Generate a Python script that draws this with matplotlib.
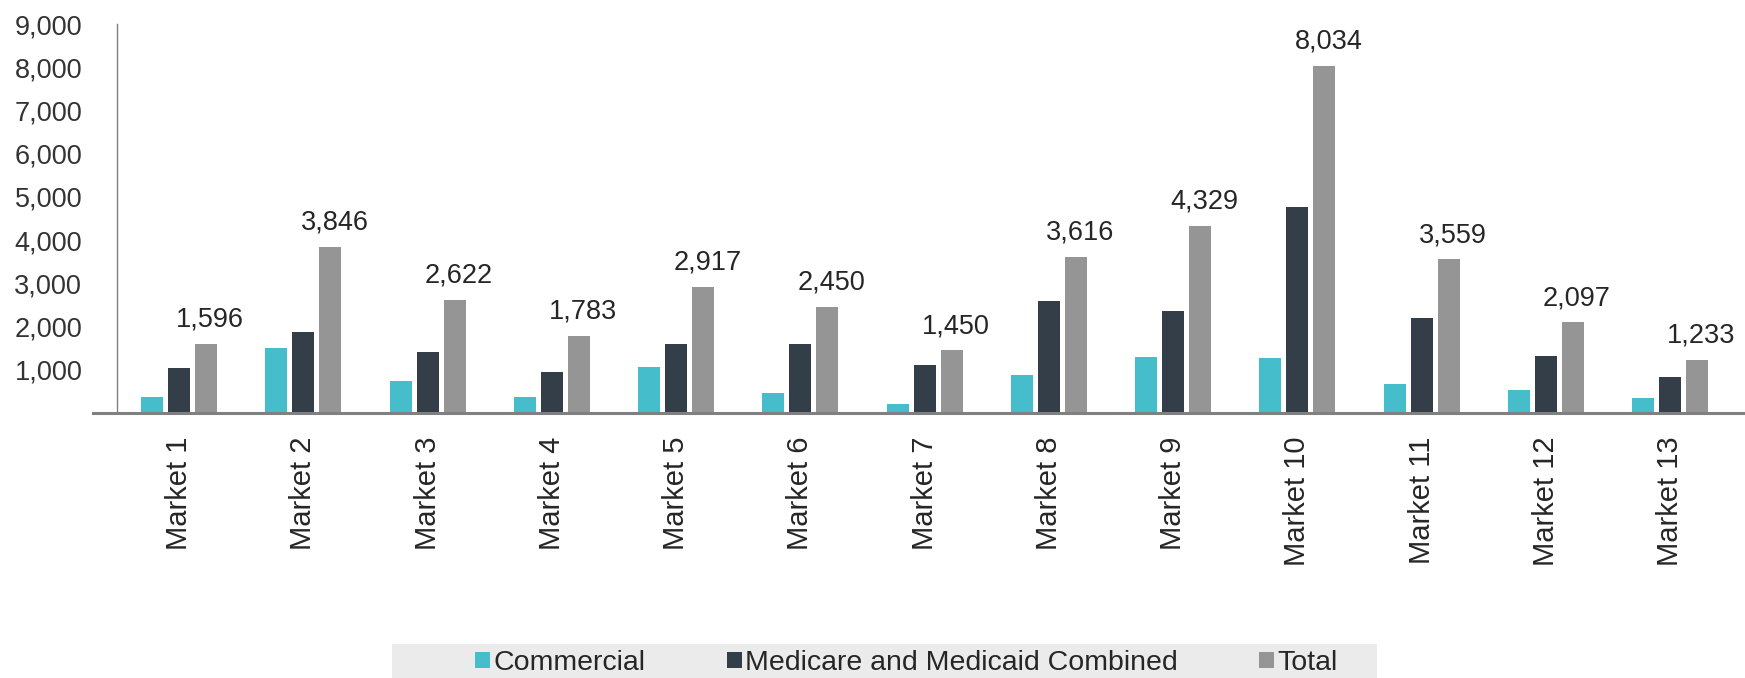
import numpy as np
import matplotlib
matplotlib.use('Agg')
import matplotlib.pyplot as plt
from matplotlib.patches import Rectangle


MARKETS = [f'Market {i}' for i in range(1, 14)]
COMMERCIAL = [380, 1500, 730, 380, 1070, 470, 200, 880, 1290, 1270, 670, 530, 340]
MED_COMBINED = [1040, 1870, 1400, 960, 1590, 1590, 1110, 2580, 2350, 4770, 2200, 1310, 830]
TOTAL = [1596, 3846, 2622, 1783, 2917, 2450, 1450, 3616, 4329, 8034, 3559, 2097, 1233]
SERIES_NAMES = ['Commercial', 'Medicare and Medicaid Combined', 'Total']
COLORS = ['#45bdca', '#333e48', '#959595']
Y_TICKS = [1000, 2000, 3000, 4000, 5000, 6000, 7000, 8000, 9000]

W, H = 1745, 678

plt.rcParams.update({'font.family': ['Liberation Sans', 'DejaVu Sans']})
fig = plt.figure(figsize=(W / 100, H / 100), dpi=100)
ax = fig.add_axes([93 / W, 1 - 413 / H, 1 - 93 / W, (413 - 24) / H])

x = np.arange(len(MARKETS))
off = 0.217
bw = 0.177
for i, (vals, name, c) in enumerate(zip([COMMERCIAL, MED_COMBINED, TOTAL], SERIES_NAMES, COLORS)):
    bars = ax.bar(x + (i - 1) * off, vals, width=bw, color=c, label=name, zorder=2)
    if name == 'Total':
        # data labels only on the total bars
        for b in bars:
            ax.annotate(f'{b.get_height():,.0f}',
                        (b.get_x() + b.get_width() / 2, b.get_height()),
                        xytext=(3, 8), textcoords='offset points',
                        ha='center', va='bottom', fontsize=19.5, color='#262626')

ax.set_xlim(-0.693, 12.603)
ax.set_ylim(0, 9000)
ax.set_yticks(Y_TICKS)
ax.set_yticklabels([f'{v:,}' for v in Y_TICKS])
ax.set_xticks(x)
ax.set_xticklabels(MARKETS, rotation=90)
ax.tick_params(axis='y', length=0, pad=25, labelsize=19.5, labelcolor='#333333')
ax.tick_params(axis='x', length=0, pad=17, labelsize=21, labelcolor='#262626')

for s in ['top', 'right']:
    ax.spines[s].set_visible(False)
ax.spines['left'].set_position(('data', -0.5))
ax.spines['left'].set_color('#7f7f7f')
ax.spines['left'].set_linewidth(1.0)
ax.spines['bottom'].set_color('#808080')
ax.spines['bottom'].set_linewidth(2.2)
ax.spines['bottom'].set_zorder(3)

# grey legend strip at the bottom
fig.patches.append(Rectangle((392 / W, 0), (1377 - 392) / W, (678 - 644) / H,
                             transform=fig.transFigure, facecolor='#ebebeb',
                             edgecolor='none', zorder=0))
fig.legend(loc='center left', bbox_to_anchor=(475 / W, 1 - 663 / H), ncol=3,
           frameon=False, fontsize=20.5, borderaxespad=0, borderpad=0,
           handlelength=0.53, handleheight=0.46, handletextpad=0.12,
           columnspacing=2.85, labelcolor='#262626')

fig.savefig('out.png', dpi=100)
